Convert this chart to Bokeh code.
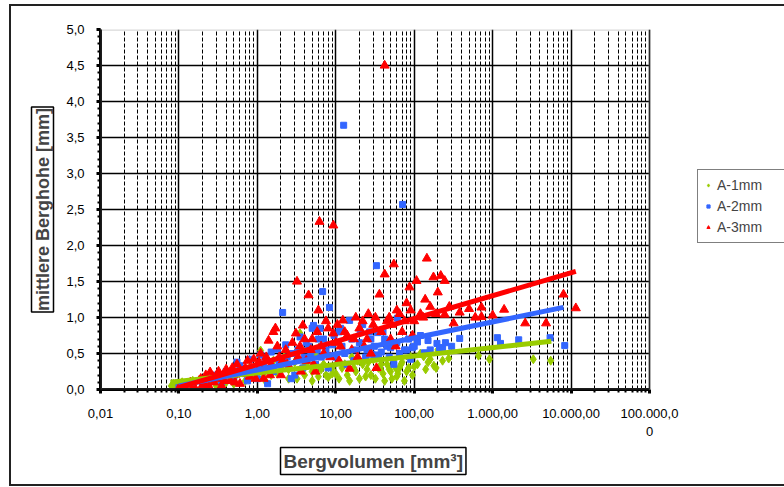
import math
from bokeh.plotting import figure
from bokeh.models import FixedTicker, Title, Legend, LegendItem, BoxAnnotation
from bokeh.embed import file_html
from bokeh.resources import INLINE

# ---------------- data ----------------
x_ticks = [0.01, 0.1, 1, 10, 100, 1000, 10000, 100000]
x_tick_labels = ["0,01", "0,10", "1,00", "10,00", "100,00", "1.000,00", "10.000,00", "100.000,0\n0"]
y_ticks = [0.0, 0.5, 1.0, 1.5, 2.0, 2.5, 3.0, 3.5, 4.0, 4.5, 5.0]
y_tick_labels = ["0,0", "0,5", "1,0", "1,5", "2,0", "2,5", "3,0", "3,5", "4,0", "4,5", "5,0"]

series_names = ["A-1mm", "A-2mm", "A-3mm"]
x_title = "Bergvolumen [mm³]"
y_title = "mittlere Berghohe [mm]"

a1_x = [0.08, 0.085, 0.09, 0.1, 0.11, 0.12, 0.15, 0.2, 0.25, 0.3, 0.35, 0.4, 0.45, 0.5,
        0.6, 0.7, 0.8, 0.9, 1.0, 1.1, 1.2, 1.4, 1.6, 1.8, 2.0, 2.2, 2.5,
        3.0, 3.5, 3.8, 4.0, 4.5, 5.0, 5.5, 6.0, 7.0, 8.0, 9.0, 10.0,
        12, 14, 16, 18, 20, 22, 25, 28, 30, 35, 37, 40, 45, 50, 55, 60, 65, 68, 70, 80, 90, 100,
        120, 132, 150, 178, 200, 275, 660, 910, 3300, 5500,
        0.3, 0.5, 0.8, 1.3, 1.5, 2.5, 3.2, 4.2, 5.0, 6.5, 7.5, 9.0, 11, 13, 15, 17, 19,
        24, 26, 32, 38, 42, 48, 52, 58, 62, 75, 85, 95, 110, 140, 160, 190, 230]
a1_y = [0.05, 0.08, 0.02, 0.04, 0.10, 0.06, 0.12, 0.08, 0.15, 0.05, 0.18, 0.10, 0.22, 0.14,
        0.25, 0.12, 0.30, 0.20, 0.35, 0.54, 0.18, 0.28, 0.40, 0.22, 0.32, 0.45, 0.15,
        0.38, 0.78, 0.30, 0.20, 0.42, 0.25, 0.50, 0.18, 0.35, 0.17, 0.22, 0.22,
        0.30, 0.20, 0.45, 0.25, 0.15, 0.35, 0.28, 0.20, 0.42, 0.30, 0.29, 0.22, 0.35, 0.25, 0.40, 0.18, 0.30, 0.35, 0.38, 0.25, 0.45, 0.32,
        0.50, 0.46, 0.38, 0.33, 0.55, 0.43, 0.47, 0.42, 0.42, 0.40,
        0.12, 0.08, 0.15, 0.10, 0.20, 0.28, 0.15, 0.35, 0.12, 0.28, 0.20, 0.30, 0.15, 0.35, 0.12, 0.30, 0.40,
        0.18, 0.38, 0.15, 0.35, 0.12, 0.28, 0.15, 0.30, 0.22, 0.12, 0.30, 0.20, 0.35, 0.28, 0.42, 0.30, 0.40]

a2_x = [0.1, 0.12, 0.15, 0.2, 0.25, 0.3, 0.35, 0.4, 0.5, 0.55, 0.6, 0.7, 0.8, 0.9, 1.0,
        1.1, 1.2, 1.35, 1.5, 1.8, 2.0, 2.1, 2.3, 2.5, 2.8, 3.0, 3.5, 4.0, 4.5, 5.0, 5.2,
        5.5, 6.0, 6.3, 6.8, 7.5, 8.3, 9.0, 10, 11, 11.5, 12.6, 13, 15, 17, 20, 20.5, 22, 25,
        28, 29, 33, 34, 35, 40, 45, 50, 55, 60, 61, 71, 75, 85, 95, 100, 120, 135, 150, 195,
        210, 230, 380, 1150, 1260, 2150, 5400, 8300,
        0.45, 0.65, 0.75, 1.05, 1.25, 1.6, 1.9, 2.4, 2.7, 3.3, 3.8, 4.2, 4.8, 5.8, 6.5, 7.0,
        8.0, 9.5, 12, 14, 16, 18, 24, 27, 31, 38, 42, 48, 52, 65, 80, 90, 110, 160, 250, 300]
a2_y = [0.03, 0.06, 0.10, 0.05, 0.15, 0.20, 0.10, 0.25, 0.18, 0.38, 0.33, 0.22, 0.42, 0.30, 0.15,
        0.48, 0.35, 0.08, 0.52, 0.56, 0.40, 1.07, 0.62, 0.30, 0.50, 0.20, 0.73, 0.45, 0.60, 0.85, 0.89,
        0.35, 0.70, 0.85, 1.36, 0.55, 1.14, 0.62, 0.45, 0.80, 0.85, 3.67, 0.50, 0.96, 0.40, 0.65, 0.79, 0.90, 0.55,
        0.70, 0.49, 1.72, 0.79, 0.48, 0.80, 0.60, 0.58, 0.35, 0.65, 0.99, 2.57, 0.55, 0.70, 0.58, 0.60, 0.75, 0.51, 0.68, 0.64,
        0.58, 0.58, 0.71, 0.72, 0.64, 0.69, 0.72, 0.61,
        0.15, 0.28, 0.12, 0.30, 0.45, 0.25, 0.35, 0.45, 0.15, 0.55, 0.30, 0.65, 0.50, 0.55, 0.45, 0.70,
        0.30, 0.75, 0.60, 0.35, 0.70, 0.55, 0.45, 0.80, 0.60, 0.52, 0.70, 0.45, 0.62, 0.50, 0.55, 0.42, 0.66, 0.55, 0.65, 0.60]

a3_x = [0.1, 0.11, 0.12, 0.13, 0.15, 0.18, 0.2, 0.22, 0.25, 0.28, 0.3, 0.35, 0.4, 0.45, 0.5,
        0.55, 0.6, 0.7, 0.8, 0.9, 1.0, 1.1, 1.2, 1.39, 1.5, 1.6, 1.7, 1.9, 2.0, 2.3, 2.6,
        3.1, 3.2, 3.5, 3.8, 4.2, 4.5, 5.0, 5.5, 6.0, 6.2, 7.0, 8.0, 9.3, 9.3, 10, 11, 12.3,
        14, 15, 16, 18, 20, 23, 26, 30, 33, 36, 42, 42, 45, 50, 55, 60, 70, 80, 87, 100,
        107, 120, 138, 145, 176, 200, 218, 245, 245, 318, 380, 500, 720, 720, 1000, 1400,
        2600, 4800, 8000, 11500,
        0.14, 0.16, 0.19, 0.21, 0.24, 0.27, 0.32, 0.38, 0.42, 0.48, 0.52, 0.65, 0.75, 0.85,
        0.95, 1.05, 1.15, 1.3, 1.45, 1.8, 2.1, 2.4, 2.8, 3.3, 3.6, 4.0, 4.8, 5.2, 5.8, 6.5,
        7.5, 8.5, 10.5, 11.5, 13, 17, 19, 22, 25, 28, 32, 38, 48, 52, 58, 65, 75, 90, 95,
        130, 160, 190, 280, 600]
a3_y = [0.02, 0.05, 0.03, 0.08, 0.04, 0.12, 0.06, 0.20, 0.24, 0.10, 0.15, 0.05, 0.28, 0.12, 0.20,
        0.35, 0.08, 0.30, 0.18, 0.42, 0.25, 0.50, 0.15, 0.68, 0.35, 0.80, 0.85, 0.45, 0.20, 0.55, 0.30,
        0.78, 1.50, 0.60, 0.89, 0.40, 1.31, 0.70, 0.25, 1.10, 2.33, 0.50, 0.85, 0.78, 2.28, 0.65, 0.40, 0.96,
        0.75, 0.29, 0.55, 1.00, 0.85, 0.60, 1.05, 0.90, 0.30, 1.32, 1.60, 4.50, 0.95, 0.70, 1.74, 1.10, 0.80, 1.20, 1.42, 0.95,
        1.51, 1.05, 1.25, 1.82, 1.56, 1.35, 1.58, 1.51, 1.04, 0.92, 1.07, 1.12, 1.14, 1.01, 1.03, 1.11,
        0.92, 0.92, 1.32, 1.13,
        0.10, 0.02, 0.15, 0.08, 0.05, 0.18, 0.25, 0.12, 0.20, 0.30, 0.10, 0.22, 0.40, 0.28,
        0.15, 0.38, 0.25, 0.45, 0.20, 0.60, 0.40, 0.35, 0.65, 0.45, 0.25, 0.70, 0.55, 0.35, 0.80, 0.60,
        0.95, 0.45, 0.90, 0.60, 0.80, 0.70, 0.45, 0.95, 0.70, 0.50, 1.00, 0.80, 1.00, 0.90, 0.60, 1.05, 0.95, 1.10, 0.75,
        1.00, 1.15, 1.05, 1.15, 1.00]

# trend lines (logarithmic fits)
fit1_x = [0.078, 5600]
fit1_y = [0.10, 0.67]
fit2_x = [0.1, 8000]
fit2_y = [0.05, 1.14]
fit3_x = [0.1, 11500]
fit3_y = [0.03, 1.64]

green = "#99CC00"
blue = "#3366FF"
red = "#FF0000"
FONT = "Liberation Sans"

# ---------------- layout ----------------
W, H = 784, 487
LEFT, TOP, BOTTOM = 100, 29, 98
PLOT_W = 549                      # width of the plot area (0.01 .. 100000)
x_lo, x_hi = x_ticks[0], x_ticks[-1]
decades = math.log10(x_hi) - math.log10(x_lo)
frame_w = W - LEFT
x_end = 10 ** (math.log10(x_lo) + decades * frame_w / PLOT_W)

p = figure(width=W, height=H, x_axis_type="log",
           x_range=(x_lo, x_end), y_range=(y_ticks[0], y_ticks[-1]),
           output_backend="svg", toolbar_location=None,
           min_border_left=LEFT, min_border_right=0,
           min_border_top=TOP, min_border_bottom=BOTTOM)
p.background_fill_color = "white"
p.border_fill_color = None
p.outline_line_color = None

# outer chart border (drawn as the page element's background)
p.styles = {
    "background-color": "white",
    "background-image": "linear-gradient(#222,#222), linear-gradient(#222,#222), linear-gradient(#222,#222)",
    "background-position": "9px 4px, 9px 4px, 9px 484px",
    "background-size": "2px 482px, 790px 2px, 790px 2px",
    "background-repeat": "no-repeat",
}

minor_x = []
for d in range(-2, 5):
    for k in range(2, 10):
        minor_x.append(k * 10.0 ** d)
minor_y = [i / 10 for i in range(0, 51)]

p.xaxis.ticker = FixedTicker(ticks=x_ticks, minor_ticks=minor_x)
p.yaxis.ticker = FixedTicker(ticks=y_ticks, minor_ticks=minor_y)
p.xaxis.major_label_overrides = {t: l for t, l in zip(x_ticks, x_tick_labels)}
p.yaxis.major_label_overrides = {t: l for t, l in zip(y_ticks, y_tick_labels)}
p.xaxis.bounds = (x_lo, x_hi)

for ax in (p.xaxis, p.yaxis):
    ax.axis_line_color = "black"
    ax.axis_line_width = 3
    ax.major_tick_line_color = "black"
    ax.major_tick_line_width = 3
    ax.minor_tick_line_color = "black"
    ax.minor_tick_line_width = 2
    ax.major_tick_in = 0
    ax.minor_tick_in = 0
    ax.major_label_text_font = FONT
    ax.major_label_text_font_size = "13px"
    ax.major_label_text_color = "black"
p.xaxis.major_tick_out = 4
p.xaxis.minor_tick_out = 3
p.yaxis.major_tick_out = 4
p.yaxis.minor_tick_out = 3
p.xaxis.major_label_standoff = 12
p.yaxis.major_label_standoff = 12

p.xgrid.bounds = (x_lo, x_hi)
p.xgrid.grid_line_color = "black"
p.xgrid.grid_line_width = 1.5
p.xgrid.minor_grid_line_color = "black"
p.xgrid.minor_grid_line_dash = "4 2"
p.xgrid.minor_grid_line_width = 1
p.ygrid.cross_bounds = (x_lo, x_hi)
p.ygrid.grid_line_color = "black"
p.ygrid.grid_line_width = 1.5

# plot-area border (grey, as in the reference)
p.add_layout(BoxAnnotation(left=x_lo, right=x_hi, bottom=y_ticks[0], top=y_ticks[-1],
                           fill_alpha=0, line_color="#808080", line_width=2.5))

# scatter points
r1 = p.scatter(a1_x, a1_y, marker="diamond", size=9, fill_color=green, line_color=green)
r2 = p.scatter(a2_x, a2_y, marker="square", size=6, fill_color=blue, line_color=blue)
r3 = p.scatter(a3_x, a3_y, marker="triangle", size=9, fill_color=red, line_color=red)

# trend lines
p.line(fit1_x, fit1_y, line_color=green, line_width=5)
p.line(fit2_x, fit2_y, line_color=blue, line_width=5)
p.line(fit3_x, fit3_y, line_color=red, line_width=5)

# axis titles (boxed)
p.add_layout(Title(text=y_title, align="center", standoff=20,
                   text_font=FONT, text_font_style="bold", text_font_size="18px",
                   border_line_color="black", border_line_width=1.5,
                   background_fill_color="white", padding=1), "left")
p.add_layout(Title(text=x_title, align="left", offset=180, standoff=8,
                   text_font=FONT, text_font_style="bold", text_font_size="19px",
                   border_line_color="black", border_line_width=1.5,
                   background_fill_color="white", padding=3), "below")

legend = Legend(items=[LegendItem(label=series_names[0], renderers=[r1]),
                       LegendItem(label=series_names[1], renderers=[r2]),
                       LegendItem(label=series_names[2], renderers=[r3])],
                location=(597, 146))
legend.border_line_color = "black"
legend.border_line_width = 1
legend.label_text_font = FONT
legend.label_text_font_size = "14px"
legend.glyph_width = 8
legend.glyph_height = 8
legend.label_standoff = 5
legend.spacing = 3
legend.padding = 6
legend.margin = 0
legend.label_height = 18
legend.label_width = 90
p.add_layout(legend, "center")

open("out.html", "w").write(file_html(p, INLINE))
